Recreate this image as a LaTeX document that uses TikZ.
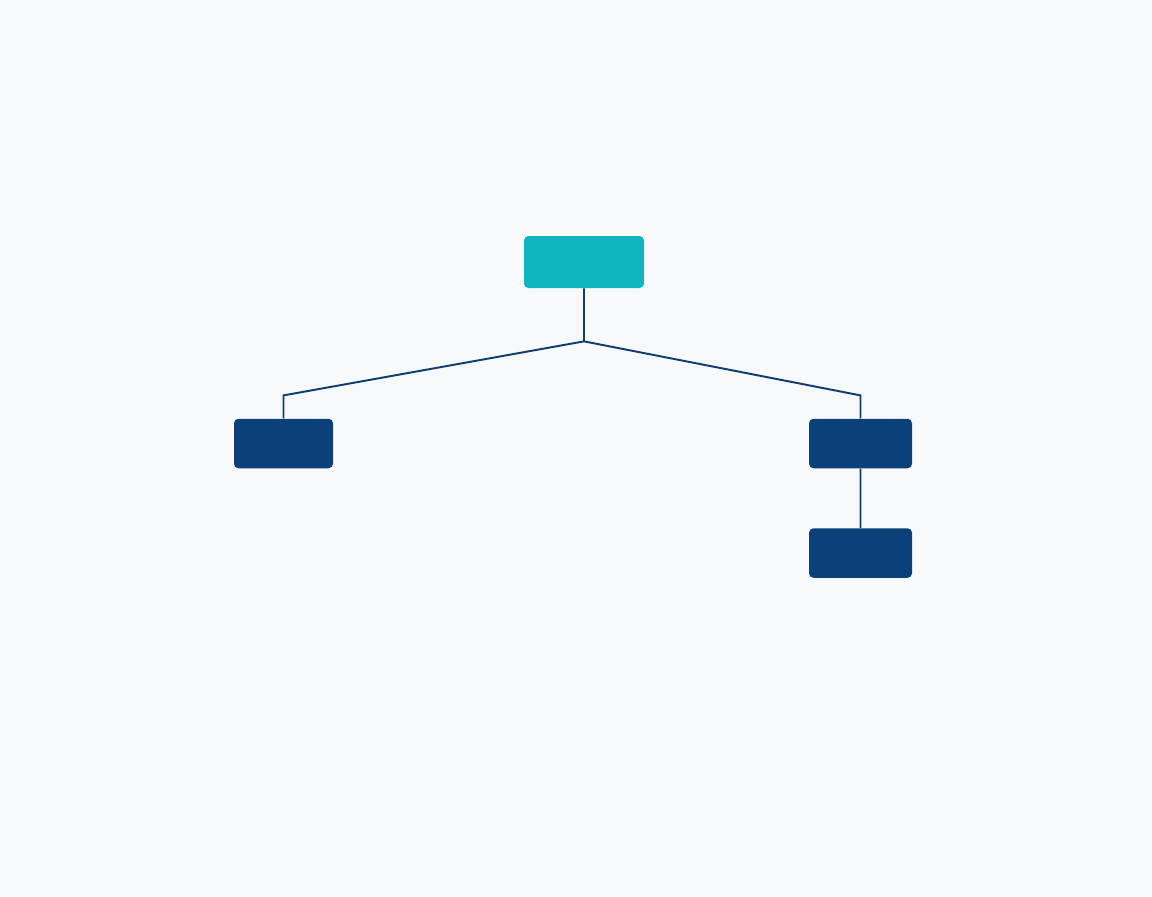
\documentclass[tikz,border=0pt]{standalone}
\usepackage{tikz}
\usetikzlibrary{positioning}
\definecolor{bgpaper}{HTML}{F8F9FA}
\definecolor{tealbox}{HTML}{0DB5BE}
\definecolor{navybox}{HTML}{0B4079}
\definecolor{navyline}{HTML}{0F3D6E}
\tikzset{node distance=3.63cm,
  rootbox/.style={fill=tealbox,rounded corners=2.5pt,inner sep=0pt,minimum width=2.4cm,minimum height=1.04cm},
  leafbox/.style={fill=navybox,rounded corners=2.5pt,inner sep=0pt,minimum width=2.06cm,minimum height=0.99cm},
  link/.style={draw=navyline,line width=1.1pt}}

\begin{document}
\begin{tikzpicture}
    \fill[bgpaper] (0,0) rectangle (23.04,-17.92);
    \useasboundingbox (0,0) rectangle (23.04,-17.92);
    \node[rootbox] (root) at (11.68,-5.24) {};
    \node[leafbox,minimum width=1.98cm] (left) [below of=root,xshift=-6.01cm] {};
    \node[leafbox] (right) [below of=root,xshift=5.53cm] {};
    \node[leafbox] (rightlow) [below of=right,node distance=2.19cm] {};
    \coordinate (split) at ([yshift=-1.06cm]root.south);
    \coordinate (lbend) at ([yshift=0.46cm]left.north);
    \coordinate (rbend) at ([yshift=0.46cm]right.north);
    \path[link]
    (root.south) -- (split)
    (split) -- (lbend) -- (left.north)
    (split) -- (rbend) -- (right.north)
    (right.south) -- (rightlow.north)
    ;
\end{tikzpicture}
\end{document}
